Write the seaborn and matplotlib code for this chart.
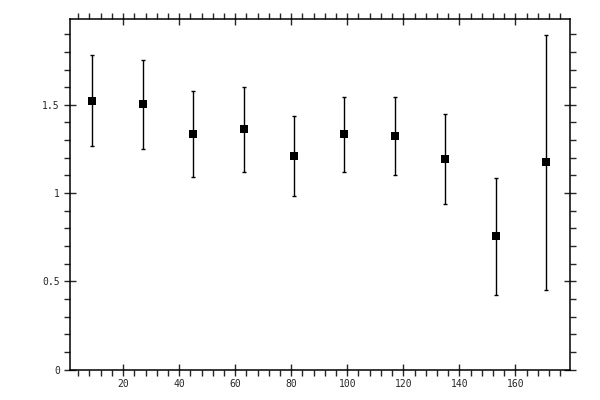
import pandas as pd
import seaborn as sns
import matplotlib.pyplot as plt
from matplotlib.ticker import MultipleLocator, FuncFormatter

x_vals = [9, 27, 45, 63, 81, 99, 117, 135, 153, 171]
y_vals = [1.524, 1.503, 1.334, 1.362, 1.208, 1.333, 1.322, 1.192, 0.756, 1.174]
y_err = [0.260, 0.252, 0.245, 0.240, 0.226, 0.214, 0.220, 0.256, 0.332, 0.723]

df = pd.DataFrame({"x": x_vals, "y": y_vals, "err": y_err})

sns.set_style("ticks")
plt.rcParams["font.family"] = ["DejaVu Sans Mono"]

fig = plt.figure(figsize=(6, 4), dpi=100)
ax = fig.add_axes([0.116, 0.076, 0.8345, 0.876])

ax.errorbar(df["x"], df["y"], yerr=df["err"], fmt="none", ecolor="black",
            elinewidth=1.0, capsize=1.7, capthick=1.0)
sns.scatterplot(data=df, x="x", y="y", marker="s", s=30, color="black",
                edgecolor="black", linewidth=0, ax=ax, zorder=3)

ax.set_xlim(0.9, 179.6)
ax.set_ylim(0, 1.985)
ax.set_xlabel("")
ax.set_ylabel("")

ax.xaxis.set_major_locator(MultipleLocator(20))
ax.xaxis.set_minor_locator(MultipleLocator(4))
ax.yaxis.set_major_locator(MultipleLocator(0.5))
ax.yaxis.set_minor_locator(MultipleLocator(0.1))
ax.xaxis.set_major_formatter(FuncFormatter(lambda v, p: "" if v == 0 else f"{v:g}"))
ax.yaxis.set_major_formatter(FuncFormatter(lambda v, p: f"{v:g}"))

for side in ax.spines.values():
    side.set_linewidth(1.1)
    side.set_color("black")

ax.tick_params(which="major", direction="inout", length=8, width=1.0,
               top=True, right=True, labelsize=7, pad=3)
ax.tick_params(which="minor", direction="out", length=4, width=1.0,
               top=True, right=True)

fig.savefig("out.png", dpi=100)
